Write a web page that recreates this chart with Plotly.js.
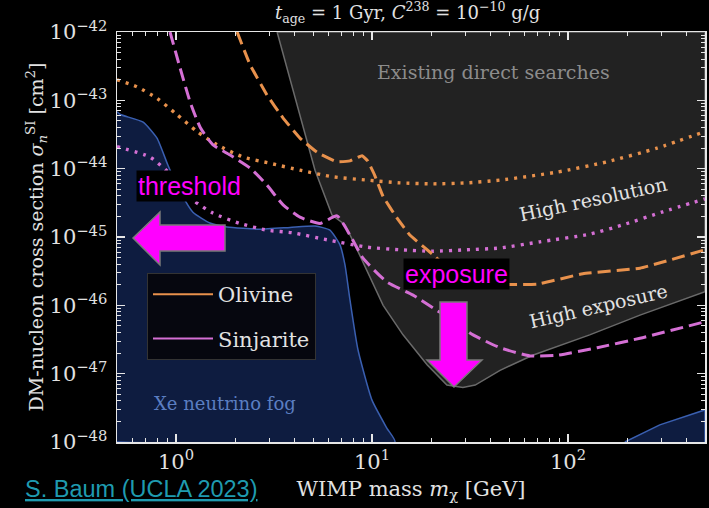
<!DOCTYPE html>
<html><head><meta charset="utf-8">
<script src="https://cdn.plot.ly/plotly-3.0.1.min.js"></script>
<style>html,body{margin:0;padding:0;background:#000;}#chart{width:709px;height:508px;}</style>
</head><body><div id="chart"></div>
<script>
// ---- data (WIMP mass in GeV, cross section in cm^2) ----
const existMass  = [3.28, 3.82, 4.29, 5.12, 6.25, 7.28, 8.19, 9.0, 11.4, 14.4, 19.1, 24.1, 29.1, 33.6, 38.6, 45, 66, 129, 233, 500, 500, 3.28];
const existSigma = [1e-42, 2.0e-43, 6.2e-44, 9.5e-45, 2.09e-45, 1.51e-45, 7.6e-46, 4.27e-46, 1.0e-46, 3.7e-47, 1.35e-47, 6.8e-48, 6.3e-48, 6.8e-48, 8.7e-48, 1.12e-47, 1.86e-47, 3.7e-47, 7.2e-47, 1.58e-46, 1e-42, 1e-42];

const fogMass  = [0.5, 0.52, 0.68, 0.80, 0.91, 1.05, 1.22, 1.49, 1.82, 2.68, 3.82, 5.12, 6.1, 6.87, 7.28, 7.72, 8.48, 10.0, 11.9, 13.1, 0.5];
const fogSigma = [6.8e-44, 6.2e-44, 4.8e-44, 2.8e-44, 1.12e-44, 4.6e-45, 2.3e-45, 1.6e-45, 1.4e-45, 1.3e-45, 1.38e-45, 1.45e-45, 1.26e-45, 7.6e-46, 3.9e-46, 1.2e-46, 2.24e-47, 4.1e-48, 1.6e-48, 1e-48, 1e-48];
const fogHiMass  = [195, 294, 500, 500];
const fogHiSigma = [1e-48, 1.78e-48, 2.95e-48, 1e-48];

const olivDashMass  = [2.05, 2.39, 2.91, 3.52, 4.29, 5.24, 6.63, 7.72, 8.9, 9.5, 10.3, 11.4, 13.4, 15.6, 20.5, 28.1, 40, 69.5, 119, 233, 500];
const olivDashSigma = [1e-42, 3.3e-43, 1.2e-43, 5.5e-44, 2.8e-44, 1.74e-44, 1.26e-44, 1.3e-44, 1.55e-44, 1.3e-44, 8.1e-45, 3.9e-45, 1.9e-45, 1.07e-45, 5.5e-46, 2.5e-46, 2.04e-46, 2.04e-46, 2.9e-46, 3.5e-46, 6.5e-46];

const olivDotMass  = [0.5, 0.632, 0.80, 1.01, 1.28, 1.62, 2.20, 3.02, 4.29, 6.32, 9.43, 13.9, 20.5, 30.5, 45, 87.9, 158, 285, 500];
const olivDotSigma = [2.0e-43, 1.58e-43, 1.07e-43, 6.2e-44, 3.5e-44, 2.24e-44, 1.48e-44, 1.2e-44, 9.5e-45, 7.6e-45, 6.8e-45, 6.2e-45, 6.0e-45, 6.2e-45, 6.8e-45, 8.9e-45, 1.26e-44, 2.0e-44, 3.5e-44];

const sinjDashMass  = [0.932, 1.05, 1.18, 1.33, 1.54, 1.89, 2.39, 2.91, 3.52, 4.29, 5.43, 6.63, 7.72, 9.0, 11.9, 16.2, 22.2, 32.8, 45, 64, 87.9, 141, 233, 500];
const sinjDashSigma = [1e-42, 2.95e-43, 9.5e-44, 4.0e-44, 2.24e-44, 1.58e-44, 1.02e-44, 5.75e-45, 2.95e-45, 1.95e-45, 1.58e-45, 2.04e-45, 1.07e-45, 4.9e-46, 2.2e-46, 1.41e-46, 7.9e-47, 3.7e-47, 2.4e-47, 1.82e-47, 1.86e-47, 2.4e-47, 3.3e-47, 5.75e-47];

const sinjDotMass  = [0.5, 0.736, 0.966, 1.22, 1.54, 2.12, 2.91, 3.95, 5.89, 9.43, 13.9, 20.5, 30.5, 45, 71.9, 129, 191, 305, 500];
const sinjDotSigma = [2.1e-44, 1.48e-44, 7.6e-45, 3.5e-45, 2.24e-45, 1.58e-45, 1.26e-45, 1.15e-45, 9.1e-46, 7.1e-46, 6.5e-46, 6.2e-46, 6.5e-46, 6.9e-46, 8.5e-46, 1.1e-45, 1.51e-45, 2.34e-45, 3.6e-45];

const xTickVals = [1, 10, 100];
const xTickText = ['10<sup>0</sup>', '10<sup>1</sup>', '10<sup>2</sup>'];
const yTickVals = [1e-48, 1e-47, 1e-46, 1e-45, 1e-44, 1e-43, 1e-42];
const yTickText = ['10<sup>−48</sup>', '10<sup>−47</sup>', '10<sup>−46</sup>', '10<sup>−45</sup>', '10<sup>−44</sup>', '10<sup>−43</sup>', '10<sup>−42</sup>'];
const minorDigits = [2, 3, 4, 5, 6, 7, 8, 9];

// ---- styling ----
const ORANGE = '#e8914c';
const PINK = '#d46fd4';
const SERIF = 'DejaVu Serif, Liberation Serif, serif';
const TXT = '#e2e2e2';

const xMinor = [];
[0.1, 1, 10, 100].forEach(d => minorDigits.forEach(k => xMinor.push(k * d)));
const yMinor = [];
[1e-48, 1e-47, 1e-46, 1e-45, 1e-44, 1e-43].forEach(d => minorDigits.forEach(k => yMinor.push(k * d)));

const traces = [
  {x: existMass, y: existSigma, mode: 'lines', fill: 'toself', fillcolor: '#222222',
   line: {color: '#6a6a6a', width: 1.5}, showlegend: false, hoverinfo: 'skip'},
  {x: fogMass, y: fogSigma, mode: 'lines', fill: 'toself', fillcolor: '#0e1c40',
   line: {color: '#3a5fb0', width: 1.5, shape: 'spline', smoothing: 0.5}, showlegend: false, hoverinfo: 'skip'},
  {x: fogHiMass, y: fogHiSigma, mode: 'lines', fill: 'toself', fillcolor: '#0e1c40',
   line: {color: '#3a5fb0', width: 1.5}, showlegend: false, hoverinfo: 'skip'},
  {x: olivDotMass, y: olivDotSigma, mode: 'lines', line: {color: ORANGE, width: 3.4, dash: '3px,6px', shape: 'spline', smoothing: 0.6}, showlegend: false},
  {x: sinjDotMass, y: sinjDotSigma, mode: 'lines', line: {color: PINK, width: 3.4, dash: '3px,6px', shape: 'spline', smoothing: 0.6}, showlegend: false},
  {x: olivDashMass, y: olivDashSigma, mode: 'lines', line: {color: ORANGE, width: 3, dash: '13px,6px', shape: 'spline', smoothing: 0.3}, showlegend: false},
  {x: sinjDashMass, y: sinjDashSigma, mode: 'lines', line: {color: PINK, width: 3, dash: '13px,6px', shape: 'spline', smoothing: 0.5}, showlegend: false},
  {x: [null], y: [null], mode: 'lines', name: 'Olivine', legendgroup: 'a', line: {color: ORANGE, width: 2}},
  {x: [null], y: [null], mode: 'lines', name: 'Sinjarite', legendgroup: 'b', line: {color: PINK, width: 2}}
];

// helper converting pixel positions of decorations to paper coordinates
const L = 117, R = 705, T = 32, B = 442;
const px = v => (v - L) / (R - L);
const py = v => (B - v) / (B - T);
function poly(pts) { return 'M ' + pts.map(p => px(p[0]).toFixed(4) + ',' + py(p[1]).toFixed(4)).join(' L ') + ' Z'; }

const arrowStyle = {type: 'path', xref: 'paper', yref: 'paper', fillcolor: '#ff00ff', line: {color: '#7a7a7a', width: 1.5}, layer: 'above'};
function note(text, x, y, font, extra) {
  return Object.assign({text: text, xref: 'paper', yref: 'paper', x: px(x), y: py(y), xanchor: 'center', yanchor: 'middle',
                        showarrow: false, font: font}, extra || {});
}

const layout = {
  width: 709, height: 508,
  paper_bgcolor: '#000', plot_bgcolor: '#000',
  margin: {l: L, r: 709 - R, t: T, b: 508 - B},
  font: {family: SERIF, color: TXT},
  title: {text: '<i>t</i><sub>age</sub> = 1 Gyr, <i>C</i><sup>238</sup> = 10<sup>−10</sup> g/g',
          font: {family: SERIF, size: 18, color: TXT}, x: 0.575, xanchor: 'center', y: 0.975, yanchor: 'middle'},
  xaxis: {type: 'log', range: [Math.log10(0.5), Math.log10(500)], showgrid: false, zeroline: false,
          showline: true, linecolor: '#e6e6e6', linewidth: 1.5, mirror: 'ticks',
          ticks: 'inside', ticklen: 8, tickwidth: 1.2, tickcolor: '#e6e6e6',
          tickmode: 'array', tickvals: xTickVals, ticktext: xTickText,
          tickfont: {family: SERIF, size: 21, color: TXT},
          minor: {tickmode: 'array', tickvals: xMinor, ticks: 'inside', ticklen: 4, tickcolor: '#e6e6e6', tickwidth: 1},
          title: {text: 'WIMP mass <i>m</i><sub>χ</sub> [GeV]', font: {family: SERIF, size: 21, color: TXT}, standoff: 8}},
  yaxis: {type: 'log', range: [-48, -42], showgrid: false, zeroline: false,
          showline: true, linecolor: '#e6e6e6', linewidth: 1.5, mirror: 'ticks',
          ticks: 'inside', ticklen: 8, tickwidth: 1.2, tickcolor: '#e6e6e6',
          tickmode: 'array', tickvals: yTickVals, ticktext: yTickText,
          tickfont: {family: SERIF, size: 21, color: TXT}, ticklabelstandoff: 4,
          minor: {tickmode: 'array', tickvals: yMinor, ticks: 'inside', ticklen: 4, tickcolor: '#e6e6e6', tickwidth: 1},
          title: {text: 'DM-nucleon cross section <i>σ</i><sub><i>n</i></sub><sup>SI</sup> [cm<sup>2</sup>]', font: {family: SERIF, size: 19, color: TXT}, standoff: 1}},
  legend: {x: px(147), y: py(273), xanchor: 'left', yanchor: 'top', bgcolor: 'rgba(6,6,10,0.9)',
           bordercolor: '#333', borderwidth: 1, font: {family: SERIF, size: 21, color: TXT},
           traceorder: 'grouped', tracegroupgap: 14, itemwidth: 60},
  shapes: [
    Object.assign({path: poly([[133,238],[160,212],[160,225],[225,225],[225,251],[160,251],[160,265]])}, arrowStyle),
    Object.assign({path: poly([[440,302],[467,302],[467,360],[482,360],[454,387],[427,360],[440,360]])}, arrowStyle)
  ],
  annotations: [
    note('Existing direct searches', 493, 72, {family: SERIF, size: 19, color: '#8c8c8c'}),
    note('High resolution', 593, 199, {family: SERIF, size: 19, color: TXT}, {textangle: -12}),
    note('High exposure', 598, 306, {family: SERIF, size: 19, color: TXT}, {textangle: -13}),
    note('Xe neutrino fog', 225, 403, {family: SERIF, size: 18, color: '#5b7ec2'}),
    note('threshold', 189, 186, {family: 'Liberation Sans, Arial, sans-serif', size: 25, color: '#ff00ff'}, {bgcolor: '#000', borderpad: 1}),
    note('exposure', 456, 274, {family: 'Liberation Sans, Arial, sans-serif', size: 25, color: '#ff00ff'}, {bgcolor: '#000', borderpad: 1}),
    note('<u>S. Baum (UCLA 2023)</u>', 141, 489, {family: 'Liberation Sans, Arial, sans-serif', size: 23.5, color: '#1f9bb0'})
  ]
};

Plotly.newPlot('chart', traces, layout, {displayModeBar: false, staticPlot: true});
</script></body></html>
